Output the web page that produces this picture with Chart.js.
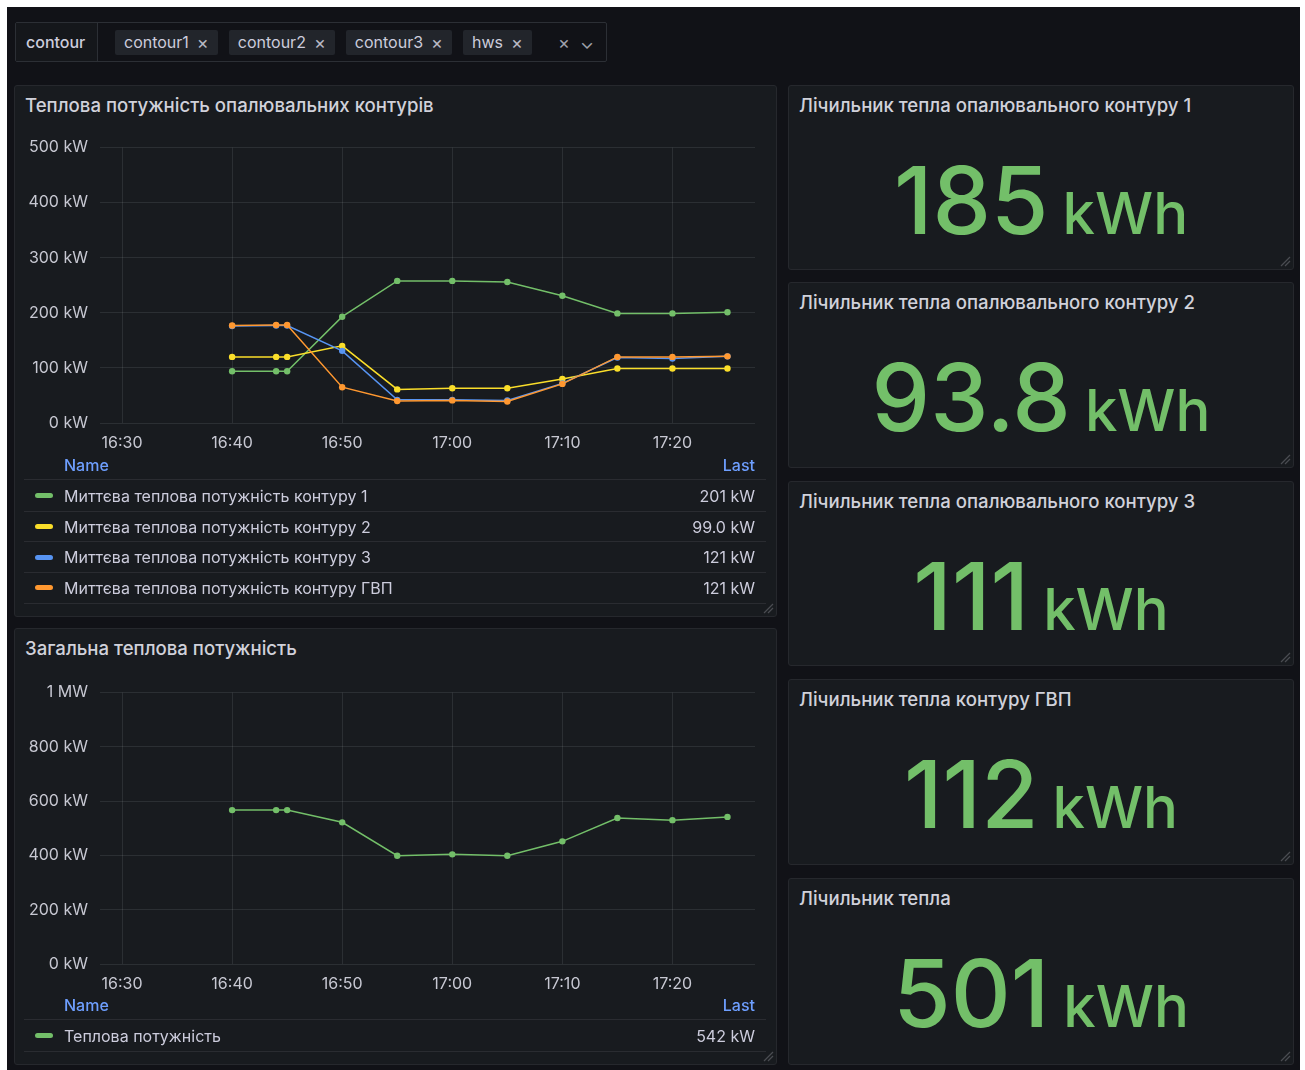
<!DOCTYPE html>
<html>
<head>
<meta charset="utf-8">
<script src="https://cdn.jsdelivr.net/npm/chart.js@4.4.1/dist/chart.umd.min.js"></script>
<style>
  body { margin: 0; width: 1305px; height: 1070px; background: #fff; font-family: Inter, "Noto Sans", sans-serif; overflow: hidden; position: relative; }
  #dash { position: absolute; left: 7px; top: 7px; width: 1293px; height: 1063px; background: #111217; }
  .panel { position: absolute; background: #181b1f; border: 1px solid #26282d; border-radius: 3px; box-sizing: border-box; }
  .ptitle { position: absolute; left: 10px; top: 8px; color: #d0d1da; font-size: 18.6px; font-weight: 500; line-height: 22px; white-space: nowrap; }
  .handle { position: absolute; right: 2px; bottom: 2px; width: 12px; height: 12px; }
  canvas { position: absolute; }
  .legend { position: absolute; left: 24px; width: 742px; color: #ccccdc; font-size: 16px; }
  .lhead { height: 28px; display: flex; justify-content: space-between; align-items: center; color: #6e9fff; font-weight: 500; border-bottom: 1px solid #2a2c31; padding: 0 11px 0 40px; margin-bottom: 1px; }
  .lrow { height: 29.7px; display: flex; align-items: center; border-bottom: 1px solid #2a2c31; padding: 0 11px 0 11px; }
  .lrow .sw { width: 18px; height: 5px; border-radius: 3px; margin-right: 11px; }
  .lrow .nm { flex: 1; }
  .stat { position: absolute; left: 0; right: 0; text-align: center; color: #73bf69; white-space: nowrap; line-height: 1; }
  .stat .v { font-size: 93px; font-weight: 500; letter-spacing: 0; }
  .stat .u { font-size: 58px; font-weight: 500; margin-left: 14px; }
  #vars { position: absolute; left: 15px; top: 22px; width: 592px; height: 40px; border: 1px solid #2c2f35; border-radius: 2px; box-sizing: border-box; display: flex; align-items: center; color: #ccccdc; font-size: 16px; }
  #vars .lab { width: 82px; height: 100%; border-right: 1px solid #2c2f35; background: #15171b; display: flex; align-items: center; padding-left: 10px; box-sizing: border-box; font-weight: 500; }
  #vars .chip { background: #22252b; height: 25px; border-radius: 2px; display: flex; align-items: center; padding: 0 9px 0 9px; margin-left: 11px; }
  #vars .chip span { margin-left: 8px; color: #b8b9c4; font-size: 18px; }
  #vars .tail { margin-left: 26px; color: #9fa1ab; font-size: 18px; }
</style>
</head>
<body>
<div id="dash"></div>
<div id="vars"></div>

<div class="panel" style="left:14px;top:85px;width:763px;height:532px;">
  <div class="ptitle">Теплова потужність опалювальних контурів</div>
</div>
<canvas id="chart1" width="745" height="327" style="left:14px;top:126px;"></canvas>
<div class="legend" id="legend1" style="top:451px;"></div>

<div class="panel" style="left:14px;top:628px;width:763px;height:437px;">
  <div class="ptitle">Загальна теплова потужність</div>
</div>
<canvas id="chart2" width="745" height="323" style="left:14px;top:671px;"></canvas>
<div class="legend" id="legend2" style="top:991px;"></div>

<div id="stats"></div>

<script>
// time axis: minutes after 16:00
const times = [40, 44, 45, 50, 55, 60, 65, 70, 75, 80, 85];
const xTicks = [30, 40, 50, 60, 70, 80];

const seriesNames = [
  'Миттєва теплова потужність контуру 1',
  'Миттєва теплова потужність контуру 2',
  'Миттєва теплова потужність контуру 3',
  'Миттєва теплова потужність контуру ГВП'
];
const seriesColors = ['#73bf69', '#fade2a', '#5794f2', '#ff9830'];
const contour1 = [94, 94, 94, 193, 258, 258, 256, 231, 199, 199, 201];
const contour2 = [120, 120, 120, 140, 61, 63, 63, 80, 99, 99, 99];
const contour3 = [176, 177, 177, 131, 42, 42, 41, 72, 119, 117, 121];
const hws = [177, 178, 178, 65, 40, 41, 39, 71, 120, 120, 121];

const totalName = 'Теплова потужність';
const total = [567, 567, 567, 522, 399, 404, 399, 452, 538, 530, 542];

const yTicks1 = [0, 100, 200, 300, 400, 500];
const yTicks2 = [0, 200, 400, 600, 800, 1000];

const varLabel = 'contour';
const varValues = ['contour1', 'contour2', 'contour3', 'hws'];

const statTitles = [
  'Лічильник тепла опалювального контуру 1',
  'Лічильник тепла опалювального контуру 2',
  'Лічильник тепла опалювального контуру 3',
  'Лічильник тепла контуру ГВП',
  'Лічильник тепла'
];
const statValues = ['185', '93.8', '111', '112', '501'];
const statUnit = 'kWh';

const gridColor = 'rgba(240, 250, 255, 0.09)';
const tickColor = '#c7c8d2';

function fmtTime(m) {
  const h = 16 + Math.floor(m / 60);
  const mm = m % 60;
  return h + ':' + String(mm).padStart(2, '0');
}
function fmtPower(v) {
  if (v >= 1000) return (v / 1000) + ' MW';
  return v + ' kW';
}
function fmtLast(v) {
  return (v < 100 ? v.toFixed(1) : Math.round(v)) + ' kW';
}

function makeChart(id, datasets, yTicks) {
  return new Chart(document.getElementById(id), {
    type: 'line',
    data: { datasets: datasets },
    options: {
      responsive: false,
      animation: false,
      layout: { padding: { top: 0, right: 4 } },
      plugins: { legend: { display: false }, tooltip: { enabled: false } },
      scales: {
        x: {
          type: 'linear', min: 28, max: 87.5,
          afterBuildTicks: a => { a.ticks = xTicks.map(v => ({ value: v })); },
          afterFit: a => { a.height = 30; },
          grid: { color: gridColor, drawTicks: false },
          border: { display: false },
          ticks: { color: tickColor, font: { family: 'Inter', size: 16 }, padding: 11, maxRotation: 0, autoSkip: false, callback: v => fmtTime(v) }
        },
        y: {
          min: 0, max: yTicks[yTicks.length - 1],
          afterBuildTicks: a => { a.ticks = yTicks.map(v => ({ value: v })); },
          afterFit: a => { a.width = 86; },
          grid: { color: gridColor, drawTicks: false },
          border: { display: false },
          ticks: { color: tickColor, font: { family: 'Inter', size: 16 }, padding: 12, callback: v => fmtPower(v) }
        }
      }
    }
  });
}

function series(vals, color, order) {
  return {
    data: times.map((t, i) => ({ x: t, y: vals[i] })),
    borderColor: color, backgroundColor: color,
    borderWidth: 1.5, pointRadius: 3.2, pointBorderWidth: 0,
    tension: 0, order: order
  };
}

const allSeries = [contour1, contour2, contour3, hws];
makeChart('chart1', allSeries.map((s, i) => series(s, seriesColors[i], 4 - i)), yTicks1);
makeChart('chart2', [series(total, seriesColors[0], 1)], yTicks2);

function buildLegend(id, names, colors, data) {
  let html = '<div class="lhead"><span>Name</span><span>Last</span></div>';
  names.forEach((n, i) => {
    html += '<div class="lrow"><div class="sw" style="background:' + colors[i] + '"></div>' +
      '<span class="nm">' + n + '</span><span>' + fmtLast(data[i][data[i].length - 1]) + '</span></div>';
  });
  document.getElementById(id).innerHTML = html;
}
buildLegend('legend1', seriesNames, seriesColors, allSeries);
buildLegend('legend2', [totalName], [seriesColors[0]], [total]);

// variable selector
let vh = '<div class="lab">' + varLabel + '</div>';
varValues.forEach((v, i) => {
  vh += '<div class="chip"' + (i === 0 ? ' style="margin-left:17px"' : '') + '>' + v + '<span>×</span></div>';
});
vh += '<div class="tail">×&nbsp;&nbsp;⌄</div>';
document.getElementById('vars').innerHTML = vh;

// stat panels
const statTops = [85, 282, 481, 679, 878];
const statHeights = [185, 186, 185, 186, 187];
const handleSvg = '<svg class="handle" viewBox="0 0 12 12"><line x1="11" y1="2" x2="2" y2="11" stroke="#4a4c52" stroke-width="1.2"/><line x1="11" y1="6" x2="6" y2="11" stroke="#4a4c52" stroke-width="1.2"/></svg>';
let sh = '';
statTitles.forEach((t, i) => {
  sh += '<div class="panel" style="left:788px;top:' + statTops[i] + 'px;width:506px;height:' + statHeights[i] + 'px;">' +
    '<div class="ptitle">' + t + '</div>' +
    '<div class="stat" style="top:68px"><span class="v">' + statValues[i] + '</span><span class="u">' + statUnit + '</span></div>' +
    handleSvg + '</div>';
});
document.getElementById('stats').innerHTML = sh;
document.querySelectorAll('body > .panel').forEach(p => p.insertAdjacentHTML('beforeend', handleSvg));
</script>
</body>
</html>
